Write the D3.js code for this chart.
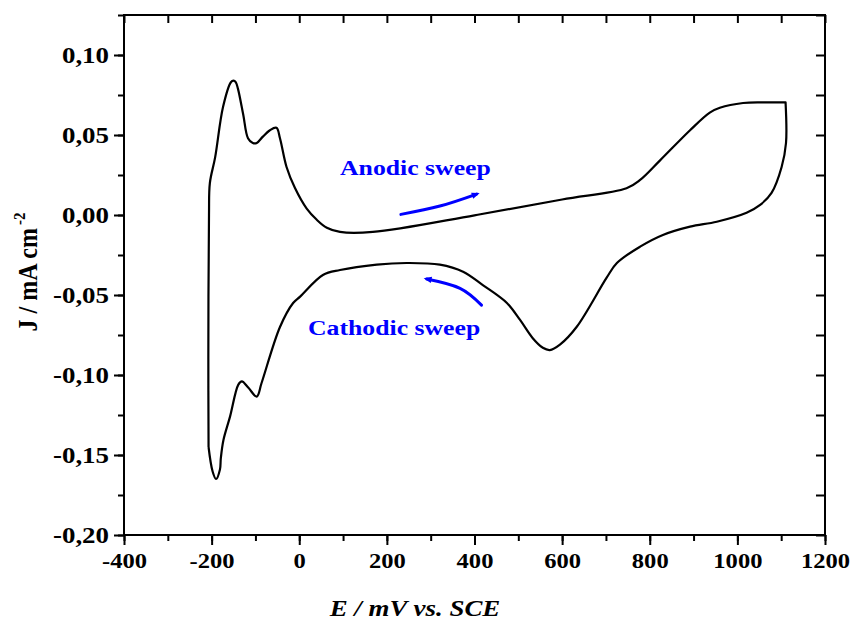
<!DOCTYPE html>
<html>
<head>
<meta charset="utf-8">
<script src="https://cdn.jsdelivr.net/npm/d3@7"></script>
<style>
  body { margin: 0; background: #fff; }
  text { font-family: "Liberation Serif", "Times New Roman", Times, serif; font-weight: bold; }
</style>
</head>
<body>
<script>
var E = [-207, -207.5, -206, -204, -192, -174, -156, -150, -145, -140, -128, -117, -106, -97, -83, -67, -52, -44, -29, -10, 17, 40, 63, 93, 168, 400, 600, 747, 778, 823, 892, 937, 960, 1013, 1058, 1110, 1110,
         1111, 1101, 1078, 1052, 1021, 953, 892, 830, 778, 725, 702, 633, 595, 572, 556, 533, 504, 474, 419, 374, 321, 245, 177, 93, 54, 2, -14, -44, -86, -97, -116, -131, -139, -158, -173, -179, -181, -190, -198, -207]
var J = [-0.145, -0.09, 0.000, 0.020, 0.036, 0.0675, 0.083, 0.084, 0.083, 0.079, 0.063, 0.048, 0.045, 0.045, 0.049, 0.053, 0.0545, 0.048, 0.030, 0.017, 0.004, -0.003, -0.008, -0.0106, -0.0106, -0.0002, 0.0097, 0.0167, 0.0219, 0.034, 0.053, 0.064, 0.067, 0.070, 0.0704, 0.0704, 0.0704,
         0.045, 0.030, 0.0138, 0.0063, 0.0014, -0.0042, -0.0073, -0.0125, -0.0198, -0.030, -0.039, -0.070, -0.081, -0.0844, -0.083, -0.077, -0.0656, -0.055, -0.0438, -0.0354, -0.031, -0.030, -0.031, -0.0344, -0.0375, -0.051, -0.055, -0.070, -0.105, -0.1135, -0.108, -0.104, -0.106, -0.126, -0.1406, -0.152, -0.159, -0.165, -0.160, -0.145]

var xTicks = [-400, -200, 0, 200, 400, 600, 800, 1000, 1200]
var xMinor = d3.range(-400, 1201, 100)
var yTicks = [-0.20, -0.15, -0.10, -0.05, 0.00, 0.05, 0.10]
var yMinor = d3.range(-0.20, 0.1251, 0.025)

var labels = ["Anodic sweep", "Cathodic sweep"]
var labelE = [93, 20]
var labelJ = [0.025, -0.075]
// sweep arrows, three points each (start, middle, tip)
var arrowE = [[232, 321, 405], [416, 367, 291]]
var arrowJ = [[0.0004, 0.0056, 0.0131], [-0.0563, -0.0458, -0.040]]

var width = 850, height = 623
var pLeft = 124, pRight = 825, pTop = 15, pBottom = 535
var k = 1.17  // the original picture is stretched sideways

var locale = d3.formatLocale({decimal: ",", thousands: ".", grouping: [3], currency: ["", ""], minus: "-"})
var fmt = locale.format(".2f")

var x = d3.scaleLinear().domain([-400, 1200]).range([pLeft, pRight])
var y = d3.scaleLinear().domain([-0.20, 0.125]).range([pBottom, pTop])

var svg = d3.select('body').append('svg').attr('width', width).attr('height', height)

function stretch(sel) {
    sel.each(function() {
        var t = d3.select(this)
        var x0 = +t.attr('x') || 0
        t.attr('transform', 'translate(' + x0 + ',0) scale(' + k + ',1) translate(' + (-x0) + ',0)')
    })
}

function styleAxis(g) {
    g.select('.domain').remove()
    g.selectAll('line').attr('stroke', '#000').attr('stroke-width', 2)
    g.selectAll('text').attr('fill', '#000').style('font-size', '23px')
}

// minor ticks first, then labelled majors
svg.append('g').attr('transform', 'translate(0,' + pBottom + ')')
   .call(d3.axisBottom(x).tickValues(xMinor).tickSize(6).tickFormat(''))
   .call(styleAxis)
svg.append('g').attr('transform', 'translate(0,' + pBottom + ')')
   .call(d3.axisBottom(x).tickValues(xTicks).tickSize(10).tickPadding(2).tickFormat(d => String(d)))
   .call(styleAxis)
   .call(g => g.selectAll('text').style('font-size', '21px').attr('dy', '0.98em').call(stretch))

svg.append('g').attr('transform', 'translate(' + pLeft + ',0)')
   .call(d3.axisLeft(y).tickValues(yMinor).tickSize(6).tickFormat(''))
   .call(styleAxis)
svg.append('g').attr('transform', 'translate(' + pLeft + ',0)')
   .call(d3.axisLeft(y).tickValues(yTicks).tickSize(10).tickPadding(5).tickFormat(fmt))
   .call(styleAxis)
   .call(g => g.selectAll('text').call(stretch))

// top and right: ticks pointing inwards, no labels
svg.append('g').attr('transform', 'translate(0,' + pTop + ')')
   .call(d3.axisTop(x).tickValues(xMinor).tickSize(-8).tickFormat(''))
   .call(styleAxis)
svg.append('g').attr('transform', 'translate(' + pRight + ',0)')
   .call(d3.axisRight(y).tickValues(yMinor).tickSize(-9).tickFormat(''))
   .call(styleAxis)

svg.append('rect')
   .attr('x', pLeft).attr('y', pTop)
   .attr('width', pRight - pLeft).attr('height', pBottom - pTop)
   .attr('fill', 'none').attr('stroke', '#000').attr('stroke-width', 2)

// the voltammogram
var pts = E.map((e, i) => [e, J[i]])
var line = d3.line().x(d => x(d[0])).y(d => y(d[1])).curve(d3.curveCatmullRom.alpha(0.5))
svg.append('path')
   .attr('d', line(pts))
   .attr('fill', 'none').attr('stroke', '#000').attr('stroke-width', 2.2)
   .attr('stroke-linejoin', 'round')

// axis titles
svg.append('text')
   .attr('x', 415).attr('y', 616)
   .attr('text-anchor', 'middle')
   .style('font-size', '23px').style('font-style', 'italic')
   .text('E / mV vs. SCE')
   .call(stretch)

var yt = svg.append('g').attr('transform', 'translate(37,272) scale(' + k + ',1) rotate(-90)')
var ytt = yt.append('text').attr('text-anchor', 'middle').style('font-size', '24px')
ytt.append('tspan').text('J / mA cm')
ytt.append('tspan').attr('dy', '-0.7em').attr('dx', '3').style('font-size', '15px').text('-2')

// annotations
svg.append('defs').append('marker')
   .attr('id', 'head').attr('viewBox', '0 -5 10 10')
   .attr('refX', 6).attr('refY', 0)
   .attr('markerWidth', 10).attr('markerHeight', 8)
   .attr('markerUnits', 'userSpaceOnUse')
   .attr('orient', 'auto')
   .append('path').attr('d', 'M0,-4L10,0L0,4Z').attr('fill', 'blue')

svg.selectAll('.lab').data(labels).enter().append('text')
   .attr('class', 'lab')
   .attr('x', (d, i) => x(labelE[i])).attr('y', (d, i) => y(labelJ[i]))
   .attr('fill', 'blue').style('font-size', '22px')
   .text(d => d)
   .call(stretch)

var arrowLine = d3.line().x(d => x(d[0])).y(d => y(d[1])).curve(d3.curveNatural)
svg.selectAll('.arrow').data(arrowE).enter().append('path')
   .attr('class', 'arrow')
   .attr('d', (d, i) => arrowLine(d.map((e, j) => [e, arrowJ[i][j]])))
   .attr('fill', 'none').attr('stroke', 'blue').attr('stroke-width', 3)
   .attr('stroke-linecap', 'round')
   .attr('marker-end', 'url(#head)')
</script>
</body>
</html>
